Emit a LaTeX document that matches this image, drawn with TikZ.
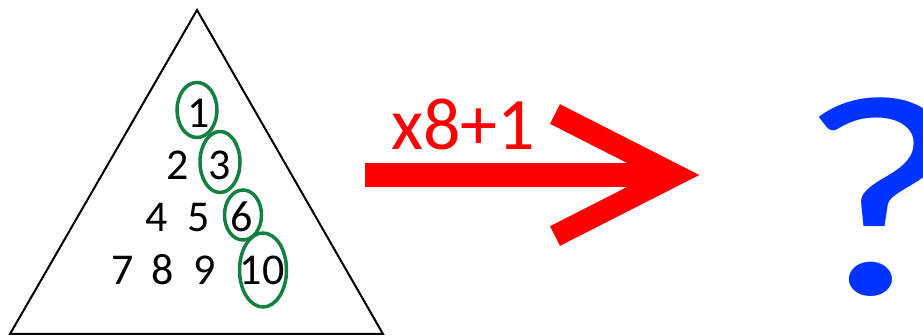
\documentclass[tikz,border=0pt]{standalone}
\usepackage{fontspec}
\setmainfont{Carlito}
\usepackage{xcolor}
\definecolor{trigreen}{RGB}{18,128,62}
\definecolor{qblue}{RGB}{0,51,255}
\definecolor{arrred}{RGB}{255,0,0}
\usetikzlibrary{arrows.meta,positioning,shapes.geometric,calc}

\begin{document}
\begin{tikzpicture}[x=1pt,y=-1pt,
  digit/.style={anchor=base,inner sep=0pt,font=\fontsize{44}{48}\selectfont},
  ring/.style={draw=trigreen,ellipse,line width=3.5pt,inner sep=0pt},
  shaft/.style={draw=arrred,line width=24pt},
  barb/.style={draw=arrred,line width=22pt,line join=miter}
]
  \useasboundingbox (0,0) rectangle (923,336);
  \clip (0,0) rectangle (923,336);

  % Triangle
  \coordinate (apex) at (197,10);
  \coordinate (bl) at (10,334);
  \coordinate (br) at (383,334);
  \draw[line width=2pt,line join=miter] (apex) -- (br) -- (bl) -- cycle;

  % Numbers
  \foreach \n/\x/\y in {1/199/128, 2/178/180, 3/220/180, 4/157/232, 5/199/232,
                        6/242/232, 7/123/285, 8/163/285, 9/205/285, 10/262/285}
    \node[digit] (n\n) at (\x,\y) {\n};

  % Green rings
  \node[ring,minimum width=40pt,minimum height=55pt] (r1) at (197,110) {};
  \node[ring,minimum width=40pt,minimum height=61pt] (r3) at (220,162) {};
  \node[ring,minimum width=37pt,minimum height=50pt] (r6) at (243,215) {};
  \node[ring,minimum width=47pt,minimum height=74pt] (r10) at (263,270) {};

  % Arrow
  \coordinate (tail) at (365,175);
  \coordinate (tip) at (675,175);
  \draw[shaft] (tail) -- ($(tip)+(-15,0)$);
  \draw[barb] ($(tip)+(-120,-61)$) -- (tip) -- ($(tip)+(-120,61)$);
  \node[anchor=base west,inner sep=0pt,text=arrred,
    font=\fontsize{74}{80}\selectfont] (rule) at (391,150) {x8+1};

  % Question mark
  \node[anchor=base west,inner sep=0pt,text=qblue,xscale=1.25,
    font=\fontsize{288}{300}\selectfont] (ask) at (797,295) {?};
\end{tikzpicture}
\end{document}
